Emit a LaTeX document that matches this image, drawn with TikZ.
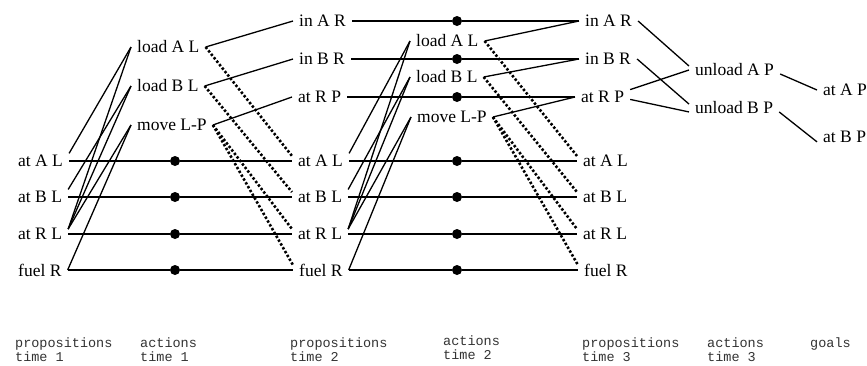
\documentclass[tikz,border=0pt]{standalone}
\usepackage{fontspec}
\setmainfont{Liberation Serif}
\setmonofont{Liberation Mono}
\begin{document}
\begin{tikzpicture}[x=1pt, y=-1pt,
    prop/.style={anchor=west, inner xsep=6pt, inner ysep=3pt,
                 font=\fontsize{17.5}{20}\selectfont},
    noopdot/.style={circle, fill=black, inner sep=0pt, minimum size=10pt},
    link/.style={line width=1.3pt},
    dellink/.style={line width=2.6pt, dash pattern=on 2.4pt off 2pt},
    caption/.style={anchor=north west, align=left, inner sep=0pt, text=black!80,
                    font=\fontsize{13.5}{13.5}\selectfont\ttfamily}]
    \useasboundingbox (0,0) rectangle (867,365);
    % propositions time 1
    \node[prop] (p1AL) at (12,161) {at A L};
    \node[prop] (p1BL) at (12,197) {at B L};
    \node[prop] (p1RL) at (12,234) {at R L};
    \node[prop] (p1FR) at (12,270) {fuel R};
    % actions time 1
    \node[prop] (a1LA) at (131,47)  {load A L};
    \node[prop] (a1LB) at (131,86)  {load B L};
    \node[prop] (a1MV) at (131,125) {move L-P};
    % propositions time 2
    \node[prop] (p2AR) at (293,21)  {in A R};
    \node[prop] (p2BR) at (293,59)  {in B R};
    \node[prop] (p2RP) at (292,97)  {at R P};
    \node[prop] (p2AL) at (292,161) {at A L};
    \node[prop] (p2BL) at (292,197) {at B L};
    \node[prop] (p2RL) at (292,234) {at R L};
    \node[prop] (p2FR) at (293,270) {fuel R};
    % actions time 2
    \node[prop] (a2LA) at (410,41)  {load A L};
    \node[prop] (a2LB) at (410,77)  {load B L};
    \node[prop] (a2MV) at (411,117) {move L-P};
    % propositions time 3
    \node[prop] (p3AR) at (579,21)  {in A R};
    \node[prop] (p3BR) at (579,59)  {in B R};
    \node[prop] (p3RP) at (575,97)  {at R P};
    \node[prop] (p3AL) at (577,161) {at A L};
    \node[prop] (p3BL) at (577,197) {at B L};
    \node[prop] (p3RL) at (577,234) {at R L};
    \node[prop] (p3FR) at (578,270) {fuel R};
    % actions time 3 and goals
    \node[prop] (a3UA) at (689,70)  {unload A P};
    \node[prop] (a3UB) at (689,108) {unload B P};
    \node[prop] (gAP)  at (817,90)  {at A P};
    \node[prop] (gBP)  at (817,137) {at B P};

    % no-op actions
    \foreach \n in {AL, BL, RL, FR} {
        \node[noopdot] (n1\n) at (175,0 |- p1\n) {};
        \draw[link] (p1\n.east) -- (n1\n) -- (p2\n.west);
    }
    \foreach \n in {AR, BR, RP, AL, BL, RL, FR} {
        \node[noopdot] (n2\n) at (457,0 |- p2\n) {};
        \draw[link] (p2\n.east) -- (n2\n) -- (p3\n.west);
    }

    % preconditions
    \foreach \k in {1, 2} {
        \draw[link] (p\k AL.15) -- (a\k LA.west);
        \draw[link] (p\k RL.10) -- (a\k LA.west);
        \draw[link] (p\k BL.15) -- (a\k LB.west);
        \draw[link] (p\k RL.10) -- (a\k LB.west);
        \draw[link] (p\k RL.10) -- (a\k MV.west);
        \draw[link] (p\k FR.east) -- (a\k MV.west);
    }
    \draw[link] (p3AR.east) -- (a3UA.175);
    \draw[link] (p3RP.15)   -- (a3UA.west);
    \draw[link] (p3BR.east) -- (a3UB.175);
    \draw[link] (p3RP.355)  -- (a3UB.185);

    % add and delete effects
    \foreach \k/\m in {1/2, 2/3} {
        \draw[link] (a\k LA.east) -- (p\m AR.west);
        \draw[link] (a\k LB.east) -- (p\m BR.west);
        \draw[link] (a\k MV.east) -- (p\m RP.west);
        \draw[dellink] (a\k LA.east) -- (p\m AL.170);
        \draw[dellink] (a\k LB.east) -- (p\m BL.170);
        \draw[dellink] (a\k MV.east) -- (p\m RL.170);
        \draw[dellink] (a\k MV.east) -- (p\m FR.170);
    }
    \draw[link] (a3UA.355) -- (gAP.west);
    \draw[link] (a3UB.355) -- (gBP.190);

    % layer captions
    \node[caption] (c1) at (15,338)  {propositions\\time 1};
    \node[caption] (c2) at (140,338) {actions\\time 1};
    \node[caption] (c3) at (290,338) {propositions\\time 2};
    \node[caption] (c4) at (443,336) {actions\\time 2};
    \node[caption] (c5) at (582,338) {propositions\\time 3};
    \node[caption] (c6) at (707,338) {actions\\time 3};
    \node[caption] (c7) at (810,338) {goals};
\end{tikzpicture}
\end{document}
